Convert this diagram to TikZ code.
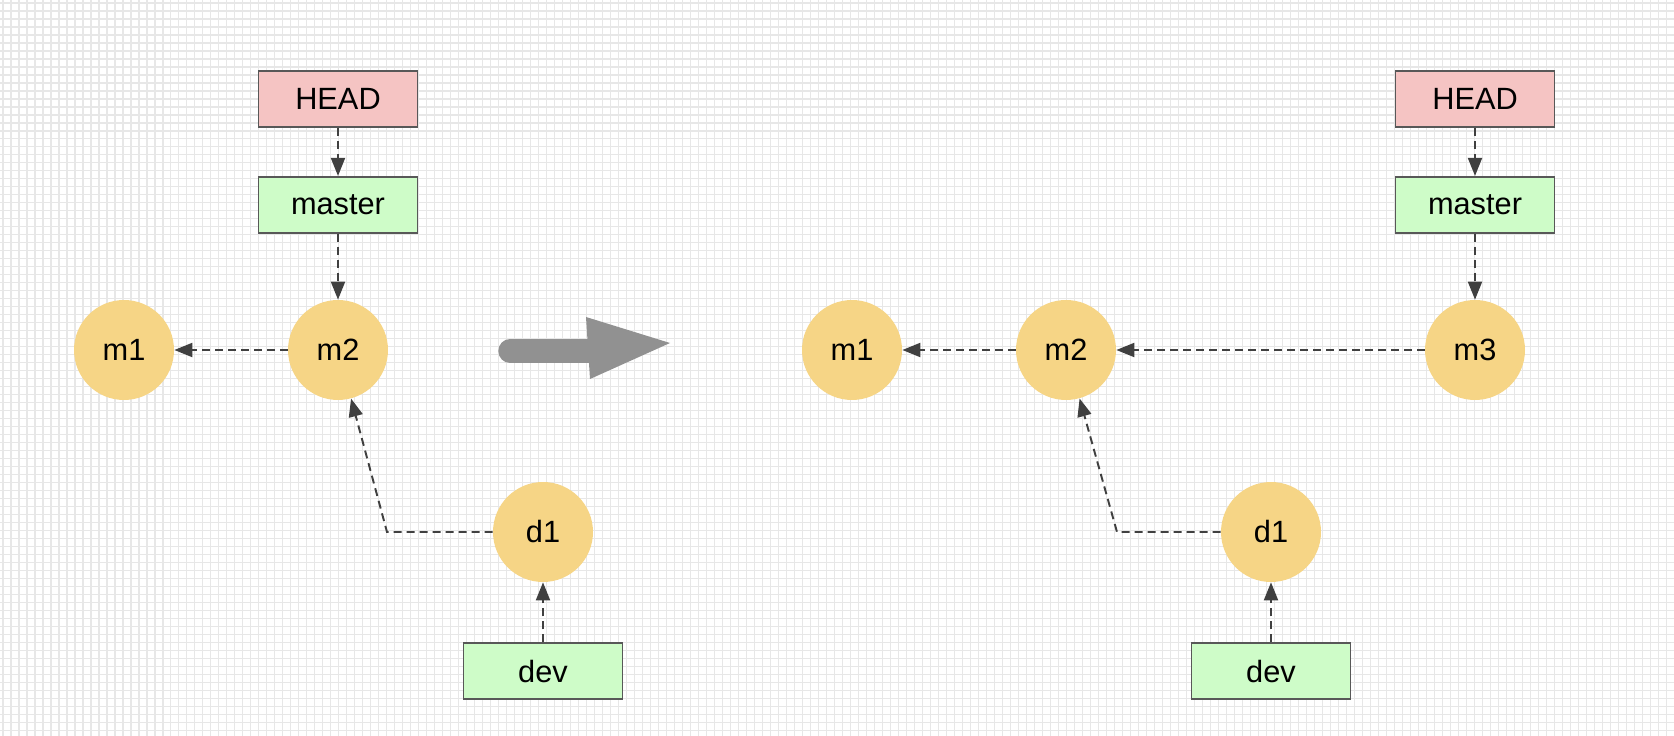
\documentclass[tikz,border=0pt]{standalone}
\usepackage{fontspec}
\setmainfont{Liberation Sans}
\usepackage{tikz}
\usetikzlibrary{arrows.meta,positioning}
\definecolor{GitRed}{RGB}{245,196,195}
\definecolor{GitGreen}{RGB}{206,252,200}
\definecolor{GitGold}{RGB}{246,213,134}
\definecolor{GitEdge}{RGB}{88,88,88}
\definecolor{GitLine}{RGB}{64,64,64}
\definecolor{GitArrow}{RGB}{145,145,145}
\definecolor{GitGrid}{RGB}{231,231,231}

\begin{document}
\begin{tikzpicture}[
  x=0.02cm, y=-0.02cm,
  font=\fontsize{17.5}{20}\selectfont,
  refbox/.style={draw=GitEdge, line width=1pt, minimum width=3.18cm, minimum height=1.12cm, align=center},
  headbox/.style={refbox, fill=GitRed},
  branchbox/.style={refbox, fill=GitGreen},
  commit/.style={circle, fill=GitGold, minimum size=2cm, inner sep=0pt},
  line/.style={-{Triangle[length=3.6mm, width=2.8mm]}, line width=1.1pt, draw=GitLine, dash pattern=on 1.6mm off 1mm}
]
\useasboundingbox (0,0) rectangle (1674,736);
\fill[white] (0,0) rectangle (1674,736);
\begin{scope}[shift={(3,3)}]
\draw[GitGrid, line width=0.6pt, step=0.16cm] (-3,-3) grid (1671,733);
\end{scope}

\node[commit] (lm1) at (124,350) {m1};
\node[commit] (lm2) at (338,350) {m2};
\node[commit] (ld1) at (543,532) {d1};
\node[branchbox, above=1.32cm of lm2] (lmaster) {master};
\node[headbox, above=0.96cm of lmaster] (lhead) {HEAD};
\node[branchbox, below=1.2cm of ld1] (ldev) {dev};
\coordinate (lc) at (387,532);

\draw[line] (lhead) -- (lmaster);
\draw[line] (lmaster) -- (lm2);
\draw[line] (lm2) -- (lm1);
\draw[line] (ld1.west) -- (lc) -- (lm2);
\draw[line] (ldev) -- (ld1);

\draw[GitArrow, line width=0.47cm, line cap=round] (510,351) -- (592,351);
\fill[GitArrow] (586,317) -- (670,343) -- (590,379) -- cycle;

\node[commit] (rm1) at (852,350) {m1};
\node[commit] (rm2) at (1066,350) {m2};
\node[commit] (rm3) at (1475,350) {m3};
\node[commit] (rd1) at (1271,532) {d1};
\node[branchbox, above=1.32cm of rm3] (rmaster) {master};
\node[headbox, above=0.96cm of rmaster] (rhead) {HEAD};
\node[branchbox, below=1.2cm of rd1] (rdev) {dev};
\coordinate (rc) at (1117,532);

\draw[line] (rhead) -- (rmaster);
\draw[line] (rmaster) -- (rm3);
\draw[line] (rm3) -- (rm2);
\draw[line] (rm2) -- (rm1);
\draw[line] (rd1.west) -- (rc) -- (rm2);
\draw[line] (rdev) -- (rd1);
\end{tikzpicture}
\end{document}
